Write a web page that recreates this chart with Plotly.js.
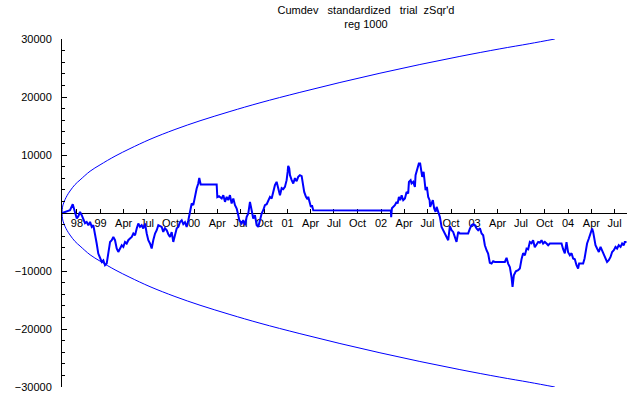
<!DOCTYPE html>
<html>
<head>
<meta charset="utf-8">
<script src="https://cdn.plot.ly/plotly-3.0.1.min.js"></script>
<style>html,body{margin:0;padding:0;background:#fff;}#chart{width:640px;height:395px;}</style>
</head>
<body>
<div id="chart"></div>
<script>
// Cumulative deviation (decimal year, value)
const walkYears = [
1998.588,1998.631,1998.674,1998.703,1998.727,1998.746,1998.763,1998.781,1998.799,1998.816,
1998.834,1998.852,1998.870,1998.888,1998.906,1998.923,1998.941,1998.959,1998.976,1998.995,
1999.013,1999.030,1999.048,1999.066,1999.083,1999.102,1999.120,1999.137,1999.155,1999.173,
1999.190,1999.208,1999.227,1999.244,1999.262,1999.280,1999.297,1999.315,1999.334,1999.351,
1999.369,1999.387,1999.404,1999.422,1999.440,1999.457,1999.476,1999.494,1999.511,1999.529,
1999.547,1999.564,1999.583,1999.601,1999.618,1999.654,1999.671,1999.689,1999.708,1999.725,
1999.743,1999.761,1999.778,1999.796,1999.815,1999.832,1999.850,1999.868,1999.885,1999.903,
1999.921,1999.939,1999.957,1999.975,1999.992,2000.010,2000.028,2000.045,2000.056,2000.071,
2000.242,2000.249,2000.267,2000.296,2000.313,2000.331,2000.349,2000.366,2000.384,2000.402,
2000.420,2000.438,2000.456,2000.473,2000.484,2000.509,2000.526,2000.545,2000.563,2000.580,
2000.598,2000.616,2000.633,2000.651,2000.670,2000.687,2000.705,2000.723,2000.740,2000.758,
2000.777,2000.794,2000.812,2000.830,2000.847,2000.865,2000.883,2000.901,2000.919,2000.937,
2000.954,2000.972,2000.990,2001.001,2001.007,2001.018,2001.026,2001.044,2001.061,2001.079,
2001.097,2001.114,2001.132,2001.151,2001.168,2001.178,2001.197,2001.213,2001.221,2001.239,
2001.250,2001.261,2001.268,2001.275,2002.105,2002.108,2002.116,2002.130,2002.148,2002.166,
2002.177,2002.191,2002.205,2002.220,2002.237,2002.255,2002.273,2002.290,2002.298,2002.316,
2002.326,2002.344,2002.362,2002.369,2002.386,2002.404,2002.418,2002.426,2002.440,2002.455,
2002.469,2002.476,2002.490,2002.504,2002.519,2002.525,2002.540,2002.554,2002.568,2002.583,
2002.594,2002.611,2002.629,2002.647,2002.664,2002.682,2002.701,2002.718,2002.736,2002.754,
2002.771,2002.789,2002.807,2002.825,2002.843,2002.861,2002.931,2002.950,2002.968,2002.985,
2003.003,2003.021,2003.038,2003.057,2003.075,2003.092,2003.110,2003.128,2003.145,2003.163,
2003.182,2003.199,2003.217,2003.324,2003.342,2003.359,2003.377,2003.395,2003.406,2003.420,
2003.441,2003.466,2003.484,2003.502,2003.519,2003.538,2003.556,2003.573,2003.591,2003.609,
2003.626,2003.644,2003.663,2003.680,2003.698,2003.716,2003.733,2003.751,2003.770,2003.787,
2003.805,2003.930,2003.947,2003.965,2003.983,2004.000,2004.019,2004.037,2004.054,2004.072,
2004.090,2004.107,2004.118,2004.161,2004.176,2004.186,2004.203,2004.222,2004.240,2004.257,
2004.268,2004.278,2004.293,2004.310,2004.329,2004.347,2004.364,2004.382,2004.400,2004.417,
2004.435,2004.454,2004.471,2004.489,2004.507,2004.524,2004.542,2004.561,2004.578,2004.596,
2004.606,2004.625
];
const walkValues = [
0,310,480,1520,-90,-950,-550,190,-380,-1240,
-1760,-1540,-2110,-1540,-2400,-2110,-3540,-5260,-6990,-7850,
-8440,-8150,-9010,-8720,-6990,-4990,-4690,-4130,-4690,-6130,
-6710,-6130,-5560,-5850,-4990,-5260,-4690,-4400,-4130,-3540,
-3830,-2680,-1810,-2400,-2110,-2680,-1810,-3540,-4690,-5260,
-6130,-4690,-3540,-2970,-2110,-2400,-3260,-2620,-2970,-3660,
-4130,-3310,-4990,-3830,-2620,-2400,-1540,-1240,-1930,-1590,
-2400,-1240,480,1640,1350,3070,4230,5090,6060,4920,
4920,2730,2900,2500,3070,1920,2780,2210,3070,1640,
2500,1350,780,-380,-1240,-1810,-1240,-2110,-670,-90,
1920,480,-950,-380,-2110,-2400,-1070,-90,480,1350,
1520,2040,2780,2500,3640,4800,5370,3940,3070,4280,
4110,4500,5660,7090,8130,7730,6520,5660,5090,6010,
5490,6230,6520,6350,4800,3640,2780,2380,2780,1920,
1050,1350,480,480,430,-720,830,1050,1350,1920,
1640,2780,2210,3070,2210,2500,3640,3370,5370,5660,
5090,5370,4500,6520,7680,8540,8540,7390,6230,7090,
5090,3940,4500,2780,2210,1050,1640,2210,780,190,
1050,190,-670,-2400,-2970,-3540,-4130,-4690,-2280,-2970,
-3260,-4130,-4990,-3260,-3540,-3540,-3540,-2680,-2110,-1930,
-2110,-2680,-2970,-2620,-3540,-3830,-5560,-6420,-6990,-8580,
-8720,-8320,-8440,-8440,-7720,-8720,-9300,-11030,-12760,-10740,
-10050,-9870,-9580,-7970,-6940,-7280,-6130,-6250,-4990,-5210,
-4690,-5900,-5390,-4990,-5130,-4690,-5260,-4990,-5260,-5560,
-5260,-5260,-6250,-6940,-5040,-6770,-7280,-6940,-7850,-7970,
-9010,-9580,-8720,-8720,-7850,-6990,-5260,-4400,-3540,-2680,
-3260,-4400,-5560,-6130,-6710,-5850,-6420,-6990,-7580,-8440,
-8150,-7580,-6710,-6420,-5850,-6130,-5560,-5850,-5260,-5560,
-4990,-4990
];
// Envelope
const envYears = [1998.588,1998.594,1998.599,1998.610,1998.620,1998.642,1998.674,1998.727,1998.781,1998.888,
  1998.995,1999.155,1999.315,1999.529,1999.796,2000.064,2000.384,2000.705,2001.132,2001.560,
  2001.988,2002.415,2002.843,2003.270,2003.591,2003.858];
const envUpper = [0,1000,1400,1900,2300,3000,3800,4900,5700,7200,
  8300,9800,11100,12700,14400,15900,17500,19000,20800,22500,
  24100,25600,27000,28300,29200,30000];
const envLower = [0,-1000,-1400,-1900,-2300,-3000,-3800,-4900,-5700,-7200,
  -8300,-9800,-11100,-12700,-14400,-15900,-17500,-19000,-20800,-22500,
  -24100,-25600,-27000,-28300,-29200,-30000];
// Axis ticks
const xTickVals = [1998.748,1999.0,1999.247,1999.496,1999.748,2000.0,2000.249,2000.497,2000.749,
  2001.0,2001.247,2001.496,2001.748,2002.0,2002.247,2002.496,2002.748,2003.0,2003.247,2003.496,
  2003.748,2004.0,2004.249,2004.497];
const xTickText = ['98','99','Apr','Jul','Oct','00','Apr','Jul','Oct','01','Apr','Jul','Oct',
  '02','Apr','Jul','Oct','03','Apr','Jul','Oct','04','Apr','Jul'];
const yTickVals = [-30000,-20000,-10000,10000,20000,30000];
const yTickText = ['\u221230000','\u221220000','\u221210000','10000','20000','30000'];

const blue = 'rgb(0,0,255)';
const traces = [
  {x: envYears, y: envUpper, type: 'scatter', mode: 'lines', line: {color: blue, width: 1, shape: 'spline'}, hoverinfo: 'skip'},
  {x: envYears, y: envLower, type: 'scatter', mode: 'lines', line: {color: blue, width: 1, shape: 'spline'}, hoverinfo: 'skip'},
  {x: walkYears, y: walkValues, type: 'scatter', mode: 'lines', line: {color: blue, width: 2}, hoverinfo: 'skip'}
];
const font = {family: '"Liberation Sans", Arial, sans-serif', size: 11, color: '#000'};
const layout = {
  width: 640, height: 395,
  margin: {l: 62, r: 13, t: 39, b: 8, pad: 0},
  paper_bgcolor: '#fff', plot_bgcolor: '#fff',
  showlegend: false,
  font: font,
  title: {
    text: 'Cumdev\u00a0\u00a0\u00a0standardized\u00a0\u00a0\u00a0trial\u00a0\u00a0zSqr\'d<br>reg 1000',
    font: font, x: 0.538, xanchor: 'center', xref: 'paper',
    y: 0.965, yref: 'container', yanchor: 'top'
  },
  xaxis: {
    range: [1998.588, 2004.63],
    anchor: 'free', position: 0.5,
    showline: true, linecolor: '#000', linewidth: 1,
    showgrid: false, zeroline: false,
    ticks: 'inside', ticklen: 4, tickcolor: '#000', tickwidth: 1,
    tickmode: 'array', tickvals: xTickVals, ticktext: xTickText,
    tickfont: font, layer: 'below traces'
  },
  yaxis: {
    range: [-30000, 30000],
    showline: true, linecolor: '#000', linewidth: 1,
    showgrid: false, zeroline: false,
    ticks: 'inside', ticklen: 5, tickcolor: '#000', tickwidth: 1,
    tickmode: 'array', tickvals: yTickVals, ticktext: yTickText,
    tickfont: font, ticklabelstandoff: 7,
    minor: {tickmode: 'linear', tick0: 0, dtick: 2000, ticks: 'inside', ticklen: 3, tickcolor: '#000', tickwidth: 1, showgrid: false}
  }
};
Plotly.newPlot('chart', traces, layout, {staticPlot: true, displayModeBar: false});
</script>
</body>
</html>
